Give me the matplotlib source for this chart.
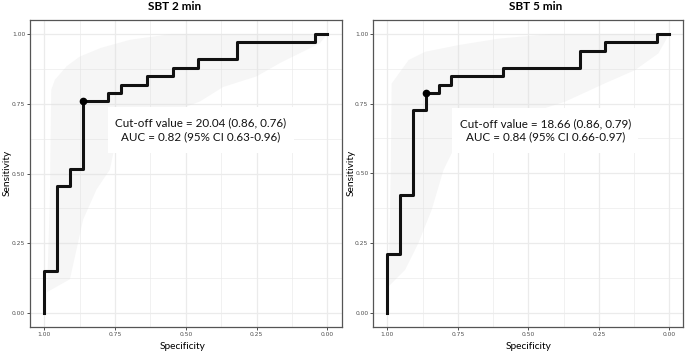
import matplotlib.pyplot as plt
from matplotlib.patches import Rectangle

# ROC step points (specificity, sensitivity)
spec_2 = [1.000, 0.955, 0.909, 0.864, 0.773, 0.727, 0.636, 0.545, 0.455, 0.318, 0.045, 0.000]
sens_2 = [0.000, 0.152, 0.455, 0.515, 0.758, 0.788, 0.818, 0.848, 0.879, 0.909, 0.970, 1.000]
spec_5 = [1.000, 0.955, 0.909, 0.864, 0.818, 0.773, 0.591, 0.318, 0.227, 0.045, 0.000]
sens_5 = [0.000, 0.212, 0.424, 0.727, 0.788, 0.818, 0.848, 0.879, 0.939, 0.970, 1.000]

# confidence band outlines
band_x_2 = [0.990, 0.980, 0.975, 0.962, 0.920, 0.874, 0.800, 0.697, 0.550, 0.000,
            0.026, 0.167, 0.250, 0.368, 0.450, 0.600, 0.750, 0.768, 0.815, 0.862, 0.909, 0.990]
band_y_2 = [0.075, 0.400, 0.800, 0.836, 0.885, 0.919, 0.950, 0.979, 1.000, 1.000,
            0.967, 0.896, 0.848, 0.810, 0.758, 0.700, 0.600, 0.514, 0.443, 0.336, 0.121, 0.075]
band_x_5 = [0.996, 0.988, 0.985, 0.925, 0.866, 0.748, 0.606, 0.420, 0.000,
            0.039, 0.122, 0.228, 0.370, 0.500, 0.650, 0.772, 0.801, 0.843, 0.890, 0.937, 0.996]
band_y_5 = [0.094, 0.500, 0.822, 0.906, 0.936, 0.960, 0.983, 1.000, 1.000,
            0.930, 0.870, 0.823, 0.757, 0.715, 0.655, 0.572, 0.512, 0.369, 0.250, 0.154, 0.094]

cut_2 = (0.864, 0.758)
cut_5 = (0.864, 0.788)
titles = ['SBT 2 min', 'SBT 5 min']
labels = ['Cut-off value = 20.04 (0.86, 0.76)\nAUC = 0.82 (95% CI 0.63-0.96)',
          'Cut-off value = 18.66 (0.86, 0.79)\nAUC = 0.84 (95% CI 0.66-0.97)']
ticks = [0.0, 0.25, 0.5, 0.75, 1.0]
tick_labels = ['0.00', '0.25', '0.50', '0.75', '1.00']

W, H = 685, 354
fig = plt.figure(figsize=(6.85, 3.54), dpi=100)
font = 'Lato'


def px(x0, y0, x1, y1):
    return [x0 / W, 1 - y1 / H, (x1 - x0) / W, (y1 - y0) / H]


panels = [
    dict(rect=px(30, 20, 341.5, 327), spec=spec_2, sens=sens_2, bx=band_x_2, by=band_y_2,
         cut=cut_2, box=(0.775, 0.118, 0.575, 0.739), tx=0.446, title_x=175, xlab_x=183, ylab_x=7),
    dict(rect=px(373.3, 20, 683.4, 326.7), spec=spec_5, sens=sens_5, bx=band_x_5, by=band_y_5,
         cut=cut_5, box=(0.772, 0.110, 0.573, 0.734), tx=0.440, title_x=536, xlab_x=529, ylab_x=351),
]

for i, p in enumerate(panels):
    ax = fig.add_axes(p['rect'])
    ax.set_xlim(1.05, -0.05)
    ax.set_ylim(-0.05, 1.05)
    ax.set_xticks(ticks)
    ax.set_yticks(ticks)
    ax.set_xticklabels(tick_labels)
    ax.set_yticklabels(tick_labels)
    ax.set_xticks([0.125, 0.375, 0.625, 0.875], minor=True)
    ax.set_yticks([0.125, 0.375, 0.625, 0.875], minor=True)
    ax.grid(which='major', color='#ebebeb', lw=0.9, zorder=0)
    ax.grid(which='minor', color='#ebebeb', lw=0.5, zorder=0)
    ax.set_axisbelow(True)
    ax.tick_params(which='major', length=2, width=0.6, color='#333333',
                   labelsize=4.3, labelcolor='#4d4d4d', pad=1.5)
    ax.tick_params(which='minor', length=0)
    for s in ax.spines.values():
        s.set_color('#555555')
        s.set_linewidth(0.9)

    ax.fill(p['bx'], p['by'], color='#dcdcdc', alpha=0.25, lw=0, zorder=1)
    ax.plot(p['spec'], p['sens'], drawstyle='steps-pre', color='#111111', lw=2.2, zorder=3)
    ax.plot(*p['cut'], 'o', color='black', ms=4.5, zorder=4)

    x0, x1, y0, y1 = p['box']
    ax.add_patch(Rectangle((x1, y0), x0 - x1, y1 - y0, facecolor='white', edgecolor='none', zorder=2))
    ax.text(p['tx'], (y0 + y1) / 2, labels[i], ha='center', va='center', fontsize=8.4,
            family=font, linespacing=1.25, color='#111111', zorder=5)

    fig.text(p['title_x'] / W, 1 - 7 / H, titles[i], ha='center', va='center',
             fontsize=8.5, fontweight='bold', family=font)
    fig.text(p['xlab_x'] / W, 1 - 346.5 / H, 'Specificity', ha='center', va='center',
             fontsize=7.3, family=font)
    fig.text(p['ylab_x'] / W, 1 - 173 / H, 'Sensitivity', ha='center', va='center',
             rotation=90, fontsize=7.3, family=font)

fig.savefig('out.png', dpi=100)
